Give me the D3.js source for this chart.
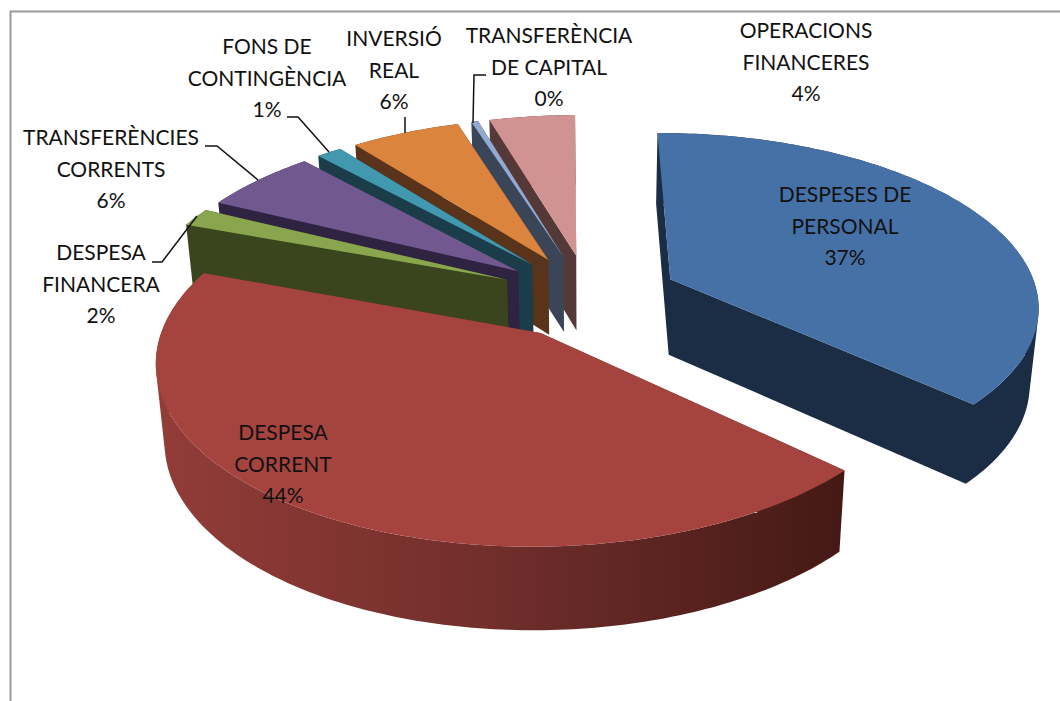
<!DOCTYPE html>
<html>
<head>
<meta charset="utf-8">
<script src="https://cdn.jsdelivr.net/npm/d3@7"></script>
<style>
  html, body { margin: 0; background: #fff; }
  svg { display: block; }
  text { font-family: Lato, "Open Sans", sans-serif; font-size: 21px; fill: #111; text-anchor: middle; }
</style>
</head>
<body>
<div id="chart"></div>
<script>
// Chart data
var categories = ["DESPESES DE PERSONAL", "DESPESA CORRENT", "DESPESA FINANCERA", "TRANSFERÈNCIES CORRENTS",
  "FONS DE CONTINGÈNCIA", "INVERSIÓ REAL", "TRANSFERÈNCIA DE CAPITAL", "OPERACIONS FINANCERES"];
var shares = [37, 43.7, 1.7, 5.9, 1.3, 5.6, 0.35, 4.4];
var topColors = ["#4571a7", "#a5443f", "#89a54e", "#71588f", "#4198af", "#db843d", "#93a9cf", "#d09392"];
var sideColors = ["#1a2d45", "url(#redWall)", "#3a441d", "#2e2340", "#1a3d49", "#59341a", "#3a4558", "#553838"];

// Label lines, in the same order as categories
var labelLines = [["DESPESES DE", "PERSONAL"], ["DESPESA", "CORRENT"], ["DESPESA", "FINANCERA"],
  ["TRANSFERÈNCIES", "CORRENTS"], ["FONS DE", "CONTINGÈNCIA"], ["INVERSIÓ", "REAL"],
  ["TRANSFERÈNCIA", "DE CAPITAL"], ["OPERACIONS", "FINANCERES"]];
var labelCenters = [[845, 202], [283, 440], [101, 260], [111, 145], [267, 54], [394, 46], [549, 43], [806, 38]];
var leaders = [
  [[287, 117], [298, 117], [329, 152]],
  [[205, 146], [217, 146], [258, 180]],
  [[152, 262], [162, 262], [197, 216]],
  [[405, 117], [405, 133]],
  [[486, 75], [474, 75], [473, 123]]
];

var svgWidth = 1060, svgHeight = 701;

var svg = d3.select("#chart").append("svg")
  .attr("width", svgWidth)
  .attr("height", svgHeight);

// red wall gets darker from left to right
var grad = svg.append("defs").append("linearGradient")
  .attr("id", "redWall")
  .attr("gradientUnits", "userSpaceOnUse")
  .attr("x1", 155).attr("x2", 845).attr("y1", 0).attr("y2", 0);
grad.append("stop").attr("offset", "0%").attr("stop-color", "#933c38");
grad.append("stop").attr("offset", "50%").attr("stop-color", "#702e2b");
grad.append("stop").attr("offset", "100%").attr("stop-color", "#441915");

// chart frame, only left and top show
svg.append("path")
  .attr("d", "M10.5,701V11.5H1060")
  .attr("fill", "none")
  .attr("stroke", "#9a9a9a")
  .attr("stroke-width", 2);

// Perspective for the tilted pie
var cx = 589, cy = 296, radius = 368, tilt = 171.5, persp = 0.143, depth = 76, explode = 0.245;

function project(X, Y, bottom) {
  var s = 1 / (1 - persp * Y);
  var x = cx + radius * X * s;
  var y = cy + tilt * Y * s;
  if (bottom) {
    x = cx + (x - cx) * 0.98;
    y = y + depth * Math.sqrt(s);
  }
  return [x, y];
}

var pie = d3.pie().sort(null)
  .startAngle(-0.5 * Math.PI / 180)
  .endAngle(359.5 * Math.PI / 180);

var arcs = pie(shares);
var line = d3.line();

function rimPoints(d, bottom) {
  var mid = (d.startAngle + d.endAngle) / 2;
  var ox = explode * Math.sin(mid), oy = -explode * Math.cos(mid);
  var n = Math.max(2, Math.ceil((d.endAngle - d.startAngle) * 60));
  return d3.range(n + 1).map(function(i) {
    var a = d.startAngle + (d.endAngle - d.startAngle) * i / n;
    return project(ox + Math.sin(a), oy - Math.cos(a), bottom);
  });
}

function apexPoint(d, bottom) {
  var mid = (d.startAngle + d.endAngle) / 2;
  return project(explode * Math.sin(mid), -explode * Math.cos(mid), bottom);
}

// same winding for every quad, so the joined path fills without seams
function quadPath(q) {
  var pts = d3.polygonArea(q) < 0 ? q.slice().reverse() : q;
  return line(pts) + "Z";
}

// Painter's order: blue first, then the small slices from back to front, red last
var drawOrder = [0, 7, 6, 5, 4, 3, 2, 1];
var slices = svg.selectAll("g.slice")
  .data(drawOrder.map(function(i) { return arcs[i]; }))
  .enter()
  .append("g")
  .attr("class", "slice");

slices.each(function(d) {
  var g = d3.select(this);
  var top = rimPoints(d, false), low = rimPoints(d, true);
  var a = apexPoint(d, false), b = apexPoint(d, true);
  var side = sideColors[d.index];
  var quads = [
    [a, top[0], low[0], b],
    [a, top[top.length - 1], low[low.length - 1], b]
  ];
  // outer wall as strips so its outline runs straight down from the rim
  d3.range(top.length - 1).forEach(function(i) {
    quads.push([top[i], top[i + 1], low[i + 1], low[i]]);
  });
  g.append("path")
    .attr("d", quads.map(quadPath).join(""))
    .attr("fill", side);
  g.append("path")
    .attr("d", line([a].concat(top)) + "Z")
    .attr("fill", topColors[d.index]);
});

// Leader lines
svg.selectAll("path.leader")
  .data(leaders)
  .enter()
  .append("path")
  .attr("class", "leader")
  .attr("d", function(d) { return line(d); })
  .attr("fill", "none")
  .attr("stroke", "#111")
  .attr("stroke-width", 1.5);

// Labels: name lines then the rounded percentage
var total = d3.sum(shares);
var pct = d3.format(".0%");
var labels = svg.selectAll("text.label")
  .data(categories)
  .enter()
  .append("text")
  .attr("class", "label");

labels.each(function(d, i) {
  var rows = labelLines[i].concat(pct(shares[i] / total));
  d3.select(this).selectAll("tspan")
    .data(rows)
    .enter()
    .append("tspan")
    .attr("x", labelCenters[i][0])
    .attr("y", function(r, j) { return labelCenters[i][1] + j * 31.5; })
    .text(function(r) { return r; });
});
</script>
</body>
</html>
